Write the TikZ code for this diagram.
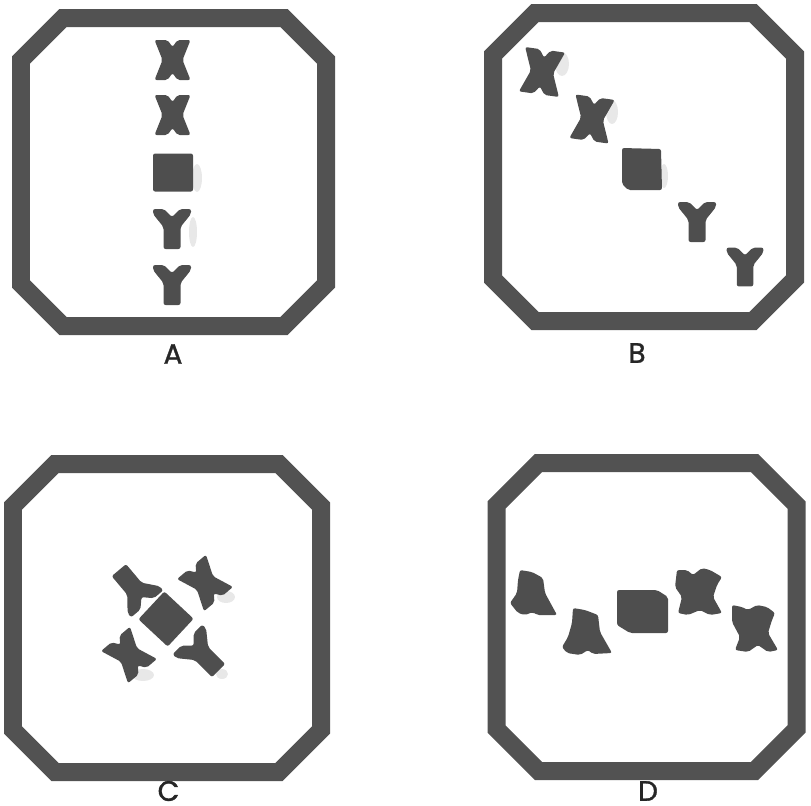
\documentclass[tikz,border=0pt]{standalone}
\usepackage{fontspec}
\setmainfont{Poppins}
\newfontfamily\panelfont{Poppins}[FakeBold=1.3]
\usepackage{tikz}
\usetikzlibrary{positioning}

\definecolor{rimgray}{RGB}{82,82,82}
\definecolor{chromgray}{RGB}{78,78,78}
\definecolor{smudgegray}{RGB}{232,232,232}

\tikzset{
  rim/.style={draw=rimgray, line width=0.36cm, line join=miter},
  chrom/.style={fill=chromgray, rounded corners=1.2pt},
  smudge/.style={fill=smudgegray},
  panellabel/.style={font=\panelfont\fontsize{16}{18}\selectfont, text=black!85, inner sep=0pt},
  pics/xchrom/.style={code={
    \fill[chrom] (-18,-20) -- (-5,-20) -- (0,-13) -- (5,-20) -- (18,-20) -- (10,0)
      -- (18,20) -- (5,20) -- (0,13) -- (-5,20) -- (-18,20) -- (-10,0) -- cycle;}},
  pics/ychrom/.style={code={
    \fill[chrom] (-19,-20) -- (-8,-20) -- (0,-12) -- (8,-20) -- (19,-20) -- (19,-15)
      -- (8.5,-2) -- (8.5,20) -- (-8.5,20) -- (-8.5,-2) -- (-19,-15) -- cycle;}},
  pics/sqchrom/.style={code={
    \fill[chrom] (-20,-19) rectangle (20,19);}},
}

\begin{document}
\begin{tikzpicture}[x=0.02cm, y=-0.02cm]
  \useasboundingbox (0,0) rectangle (811,805);
  % four octagonal frames: centre / half width / half height
  \foreach \cx/\cy/\hx/\hy in {173.5/172/152.5/154, 644/167/151/154, 167/618/154/154, 646.5/617/150/154}
    \draw[rim] ({\cx-\hx+42},{\cy-\hy}) -- ({\cx+\hx-42},{\cy-\hy}) -- ({\cx+\hx},{\cy-\hy+42})
      -- ({\cx+\hx},{\cy+\hy-42}) -- ({\cx+\hx-42},{\cy+\hy}) -- ({\cx-\hx+42},{\cy+\hy})
      -- ({\cx-\hx},{\cy+\hy-42}) -- ({\cx-\hx},{\cy-\hy+42}) -- cycle;
  \foreach \name/\lx/\ly in {A/173/354, B/637/353, C/168.5/791, D/648/791}
    \node[panellabel] (lab\name) at (\lx,\ly) {\name};

  % A -- vertical row
  \fill[smudge] (197,178) ellipse (5 and 14);
  \fill[smudge] (193,232) ellipse (4 and 15);
  \pic at (172.5,60) {xchrom};
  \pic at (172.5,115) {xchrom};
  \pic at (173,172.5) {sqchrom};
  \pic at (172,229) {ychrom};
  \pic at (172,285) {ychrom};

  % B -- diagonal row
  \fill[smudge] (562,64) ellipse (7 and 12);
  \fill[smudge] (612,112) ellipse (6 and 12);
  \fill[smudge] (664,176) ellipse (4 and 12);
  \pic[rotate=-8, scale=1.12] at (542,72) {xchrom};
  \pic[rotate=-8, scale=1.1] at (592,119) {xchrom};
  \fill[chrom] (622,148) -- (661,149) -- (662,190) -- (628,190) -- (622,184) -- cycle;
  \pic at (697,222) {ychrom};
  \pic[scale=0.97] at (745,267) {ychrom};

  % C -- cross around the square
  \fill[smudge] (226,597) ellipse (9 and 6);
  \fill[smudge] (143,675) ellipse (11 and 6);
  \fill[smudge] (222,674) ellipse (6 and 5);
  \pic[rotate=-43] at (166,619) {sqchrom};
  \pic[rotate=-140, scale=1.1] at (133,587) {ychrom};
  \pic[rotate=40, scale=1.05] at (205,583) {xchrom};
  \pic[rotate=40, scale=1.05] at (129,655) {xchrom};
  \pic[rotate=45, scale=1.1] at (203,655) {ychrom};

  % D -- irregular row
  \fill[chrom] (520,570) -- (532,572) -- (543,578) -- (545,593) -- (557,615) -- (537,615)
    -- (533,612) -- (525,615) -- (518,613) -- (510,603) -- (517,593) -- (518,580) -- cycle;
  \fill[chrom] (573,608) -- (585,610) -- (598,615) -- (600,632) -- (612,653) -- (593,654)
    -- (588,650) -- (580,655) -- (567,653) -- (562,647) -- (568,637) -- (572,623) -- cycle;
  \fill[chrom] (617,590) -- (657,590) -- (668,597) -- (668,633) -- (630,633) -- (617,625) -- cycle;
  \fill[chrom] (677,570) -- (687,570) -- (693,575) -- (702,568) -- (710,570) -- (722,577)
    -- (717,585) -- (713,597) -- (722,613) -- (710,615) -- (700,610) -- (688,615)
    -- (678,613) -- (682,597) -- (675,587) -- cycle;
  \fill[chrom] (732,605) -- (742,607) -- (748,610) -- (757,605) -- (767,607) -- (775,613)
    -- (772,620) -- (768,633) -- (778,650) -- (768,652) -- (758,645) -- (748,652)
    -- (735,650) -- (740,637) -- (732,622) -- cycle;
\end{tikzpicture}
\end{document}
